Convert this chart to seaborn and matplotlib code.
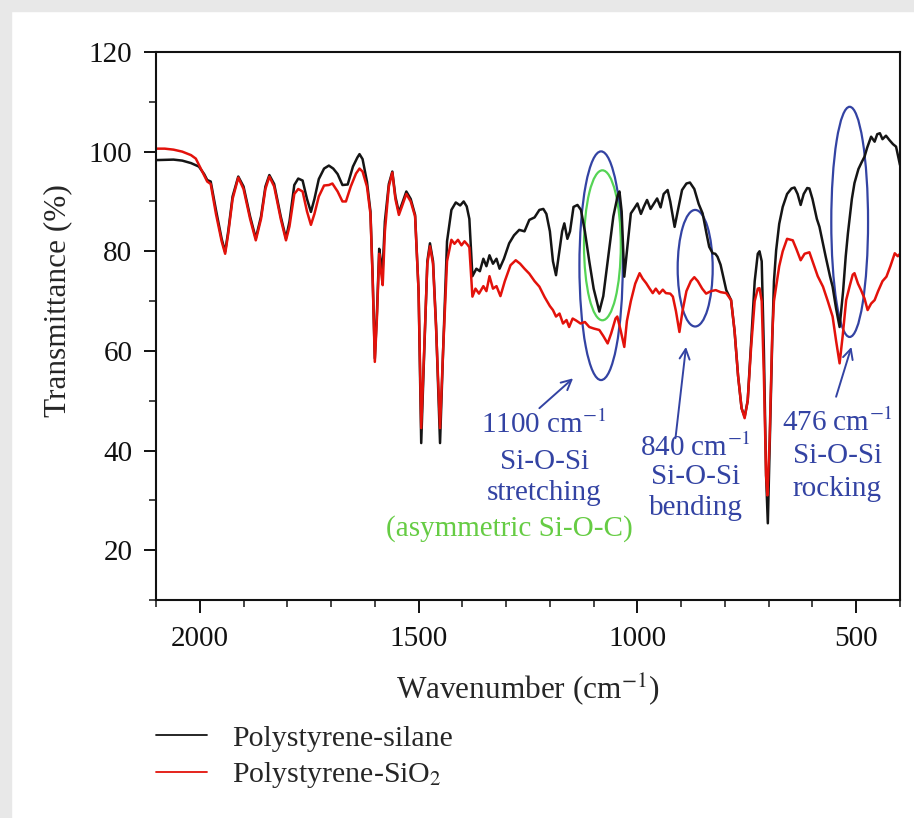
import pandas as pd
import matplotlib.pyplot as plt
import seaborn as sns
from matplotlib.patches import Ellipse, Rectangle
from matplotlib.ticker import MultipleLocator

# ---- data ----
silane_wn = [2100, 2060, 2040, 2020, 2002, 1990, 1983, 1975, 1963, 1950, 1942, 1935, 1925, 1912,
             1900, 1885, 1872, 1860, 1850, 1841, 1830, 1815, 1803, 1795, 1784, 1775, 1765, 1755,
             1746, 1738, 1728, 1716, 1705, 1695, 1685, 1674, 1662, 1650, 1640, 1635, 1628, 1618,
             1610, 1605, 1600, 1595, 1590, 1586, 1582, 1577, 1568, 1560, 1553, 1545, 1538, 1528,
             1518, 1508, 1500, 1494, 1489, 1480, 1474, 1467, 1460, 1451, 1444, 1435, 1425, 1415,
             1405, 1397, 1390, 1384, 1380, 1377, 1368, 1360, 1352, 1345, 1338, 1330, 1322, 1315,
             1305, 1293, 1282, 1270, 1258, 1247, 1235, 1224, 1215, 1208, 1200, 1193, 1186, 1180,
             1172, 1167, 1160, 1154, 1146, 1137, 1129, 1120, 1110, 1100, 1087, 1078, 1065, 1055,
             1045, 1041, 1036, 1030, 1024, 1015, 1008, 1000, 992, 985, 978, 970, 962, 955, 947,
             940, 931, 925, 915, 908, 898, 888, 880, 870, 860, 851, 842, 836, 828, 822, 817, 810,
             797, 786, 778, 770, 762, 755, 748, 740, 732, 725, 721, 716, 711, 706, 702, 698, 692,
             688, 683, 676, 668, 658, 648, 641, 634, 627, 620, 612, 607, 600, 590, 584, 570, 560,
             554, 546, 538, 530, 524, 519, 510, 504, 495, 488, 481, 475, 466, 458, 452, 446, 440,
             432, 424, 416, 409, 404, 400]
silane_t = [98.3, 98.4, 98.2, 97.7, 97.0, 95.5, 94.3, 94.0, 88.3, 82.5, 79.9, 84, 91, 95.0,
            93, 87, 82.6, 87, 93, 95.3, 93.5, 87, 82.6, 86, 93.3, 94.6, 94.2, 90.5,
            87.9, 90.5, 94.5, 96.6, 97.2, 96.6, 95.5, 93.3, 93.4, 97.0, 98.8, 99.5, 98.5, 94,
            88, 75, 58.5, 68, 80.5, 78, 76.5, 86, 93.5, 96.0, 91, 87.8, 89.5, 92.0,
            90.5, 87.3, 72, 41.5, 55, 78, 81.6, 78, 65, 41.5, 60, 82, 88.3, 89.8,
            89.2, 90.0, 89.0, 86.5, 80, 75, 76.5, 76, 78.5, 77.0, 79.2, 77.5, 78.5, 76.5,
            78.5, 81.6, 83.2, 84.3, 84, 86.3, 86.8, 88.3, 88.5, 87.5, 84, 78, 75.2, 79,
            84, 85.6, 82.5, 84, 88.9, 89.3, 88.3, 84, 78, 72.5, 67.9, 71, 80, 87,
            91.2, 92, 88, 74.9, 80, 87.6, 88.5, 89.6, 87.5, 89, 90.3, 88.5, 89.6, 90.6, 88.8,
            91.5, 92.3, 90, 84.9, 88, 92.3, 93.6, 93.8, 92.5, 89.5, 87.6, 83.5, 80.9, 79.6, 79.5, 78.9, 77.3,
            72.2, 70.2, 64, 55, 48.5, 46.8, 50, 62, 74, 79.5, 80.0, 78, 60, 35, 25.4, 40, 62,
            74, 80.2, 85.5, 88.9, 91.5, 92.6, 92.8, 91.5, 89.3, 91.5, 92.7, 92.6, 90.5, 86.5, 84.9, 79, 75,
            72.9, 68.5, 64.8, 72, 79, 83.6, 90.5, 93.7, 96.5, 97.8, 99.0, 100.8, 103.0, 102, 103.5, 103.7, 102.5,
            103.2, 102.3, 101.5, 101.0, 99, 97.3]

sio2_wn = [2100, 2080, 2060, 2040, 2020, 2009, 2000, 1990, 1983, 1975, 1963, 1950, 1942, 1935,
           1925, 1912, 1900, 1885, 1872, 1860, 1850, 1841, 1830, 1815, 1803, 1795, 1784, 1775,
           1765, 1755, 1746, 1738, 1728, 1716, 1705, 1697, 1685, 1674, 1666, 1655, 1643, 1635,
           1628, 1618, 1610, 1605, 1600, 1595, 1590, 1586, 1582, 1577, 1568, 1560, 1553, 1545,
           1538, 1528, 1518, 1508, 1500, 1494, 1489, 1480, 1474, 1467, 1460, 1451, 1444, 1435,
           1425, 1418, 1410, 1402, 1395, 1388, 1384, 1380, 1377, 1370, 1362, 1352, 1345, 1338,
           1330, 1322, 1313, 1303, 1290, 1278, 1268, 1258, 1247, 1235, 1224, 1212, 1200, 1193,
           1186, 1178, 1170, 1162, 1156, 1148, 1140, 1130, 1120, 1110, 1100, 1087, 1078, 1068,
           1060, 1050, 1046, 1038, 1030, 1024, 1015, 1005, 995, 988, 980, 972, 965, 958, 950,
           942, 935, 925, 919, 912, 904, 897, 888, 878, 870, 862, 852, 843, 832, 821, 810, 797,
           786, 778, 770, 762, 755, 748, 740, 732, 725, 721, 716, 711, 706, 703, 698, 692, 688,
           683, 676, 668, 658, 645, 637, 627, 618, 607, 598, 588, 576, 565, 554, 546, 538, 531,
           523, 515, 508, 504, 496, 489, 481, 474, 466, 458, 450, 440, 431, 422, 412, 405, 400]
sio2_t = [100.6, 100.6, 100.4, 100.0, 99.3, 98.6, 97.0, 95.2, 94.0, 93.5, 87.5, 82, 79.5, 83.5,
          90.5, 94.8, 92.5, 86.5, 82.2, 86.5, 92.5, 95.0, 93, 86.5, 82.2, 85, 91.5, 92.5,
          92.0, 88, 85.3, 87.5, 91, 93.2, 93.3, 93.6, 92.0, 90.0, 90.0, 93, 95.6, 96.6,
          96, 93, 87.5, 74.5, 57.8, 67, 79.5, 76, 73.2, 84, 93, 95.8, 90.5, 87.3,
          89, 91.5, 90, 87, 72, 44.5, 56, 77.5, 81, 77.5, 64.5, 44.5, 60, 78,
          82.3, 81.5, 82.3, 81.2, 82, 81.3, 80.8, 75, 70.9, 72.5, 71.5, 73, 72, 75,
          72.5, 73, 71, 74, 77.2, 78.2, 77.5, 76.5, 75.5, 74.0, 72.9, 70.8, 69, 68.2,
          66.9, 67.5, 65.5, 66.2, 64.8, 66.5, 66.1, 65.5, 65.8, 64.8, 64.5, 64.2, 63, 61.5,
          63.5, 66.5, 66.9, 64, 60.8, 66, 70, 73.5, 75.6, 74.5, 73.6, 72.5, 71.6, 72.5, 71.5,
          72.3, 71.6, 71.5, 70.9, 68, 63.8, 68, 72, 74, 74.8, 74, 72.5, 71.5, 72, 72.2, 71.8, 71.6,
          70.2, 64, 55, 48.5, 46.5, 50, 61, 70, 72.5, 72.6, 70, 55, 35, 31, 42, 63, 70,
          72.9, 77, 80, 82.5, 82.2, 80.5, 78.2, 79.5, 79.8, 77.5, 75.0, 72.9, 70, 66.9, 62, 57.5, 63,
          70.2, 73, 75.3, 75.6, 73.5, 72.2, 70.5, 68.2, 69.5, 70.2, 72, 74, 74.9, 77, 79.6, 79, 79.5]

labels = ["Polystyrene-silane", "Polystyrene-SiO$_2$"]
colors = {labels[0]: "#151515", labels[1]: "#e3120b"}

df = pd.concat([
    pd.DataFrame({"wn": silane_wn, "T": silane_t, "sample": labels[0]}),
    pd.DataFrame({"wn": sio2_wn, "T": sio2_t, "sample": labels[1]}),
])

sns.set_style("ticks")
plt.rcParams["font.family"] = ["Liberation Serif", "DejaVu Serif"]
plt.rcParams["mathtext.fontset"] = "stix"

W, H = 914, 818
fig = plt.figure(figsize=(W / 100, H / 100), dpi=100)
fig.patch.set_facecolor("white")
# light grey frame at top and left, as on the scanned figure
fig.add_artist(Rectangle((0, 1 - 11 / H), 1, 11 / H, transform=fig.transFigure,
                         color="#e8e8e8", zorder=-5))
fig.add_artist(Rectangle((0, 0), 11 / W, 1, transform=fig.transFigure,
                         color="#e8e8e8", zorder=-5))

ax = fig.add_axes([156 / W, 1 - 600 / H, 744 / W, 548 / H])

sns.lineplot(data=df, x="wn", y="T", hue="sample", palette=colors, sort=False,
             estimator=None, lw=1.8, ax=ax)

ax.set_xlim(2100, 400)
ax.set_ylim(10, 120)
ax.xaxis.set_major_locator(MultipleLocator(500))
ax.xaxis.set_minor_locator(MultipleLocator(100))
ax.yaxis.set_minor_locator(MultipleLocator(10))
ax.set_yticks([20, 40, 60, 80, 100, 120])
ax.tick_params(which="major", length=9, width=1.4, labelsize=21, colors="#111111")
ax.tick_params(axis="x", which="major", pad=10)
ax.tick_params(axis="y", which="major", pad=8)
ax.tick_params(which="minor", length=5, width=1.2)
for s in ax.spines.values():
    s.set_linewidth(1.5)
    s.set_color("#111111")

ax.set_xlabel("Wavenumber (cm$^{-1}$)", fontsize=22.5)
ax.set_ylabel("Transmittance (%)", fontsize=22.5)
ax.xaxis.set_label_coords(0.5, -0.13)
ax.yaxis.set_label_coords(-0.112, 0.547)

sns.move_legend(ax, "upper left", bbox_to_anchor=(0.0, -0.228), frameon=False, title=None,
                fontsize=21.5, handlelength=1.7, handletextpad=0.85, labelspacing=0.28,
                borderpad=0, borderaxespad=0)
for line in ax.get_legend().get_lines():
    line.set_linewidth(1.3)

# ---- band annotations ----
blue = "#3343a3"
green = "#66cc44"
ax.add_patch(Ellipse((1083, 77.1), 99, 45.9, fill=False, ec=blue, lw=1.6))
ax.add_patch(Ellipse((1080, 81.2), 84, 30.1, fill=False, ec="#55d455", lw=1.6))
ax.add_patch(Ellipse((868, 76.6), 80, 23.4, fill=False, ec=blue, lw=1.6))
ax.add_patch(Ellipse((515, 85.9), 84, 46.2, fill=False, ec=blue, lw=1.6))

arrow = dict(arrowstyle="->", color=blue, lw=1.4, mutation_scale=18, shrinkA=0, shrinkB=0)
ax.annotate("", xy=(1147, 54.5), xytext=(1224, 48.5), arrowprops=arrow)
ax.annotate("", xy=(889, 60.8), xytext=(913, 42.5), arrowprops=arrow)
ax.annotate("", xy=(511, 60.8), xytext=(546, 50.8), arrowprops=arrow)

fs = 21
ax.text(1213, 45.1, "1100 cm$^{-1}$", color=blue, fontsize=fs, ha="center", va="center")
ax.text(1213, 37.7, "Si-O-Si", color=blue, fontsize=fs, ha="center", va="center")
ax.text(1213, 31.4, "stretching", color=blue, fontsize=fs, ha="center", va="center")
ax.text(1293, 24.4, "(asymmetric Si-O-C)", color=green, fontsize=fs, ha="center", va="center")
ax.text(867, 40.5, "840 cm$^{-1}$", color=blue, fontsize=fs, ha="center", va="center")
ax.text(867, 34.7, "Si-O-Si", color=blue, fontsize=fs, ha="center", va="center")
ax.text(867, 28.4, "bending", color=blue, fontsize=fs, ha="center", va="center")
ax.text(543, 45.5, "476 cm$^{-1}$", color=blue, fontsize=fs, ha="center", va="center")
ax.text(543, 38.9, "Si-O-Si", color=blue, fontsize=fs, ha="center", va="center")
ax.text(543, 32.2, "rocking", color=blue, fontsize=fs, ha="center", va="center")

fig.savefig("out.png", dpi=100)
